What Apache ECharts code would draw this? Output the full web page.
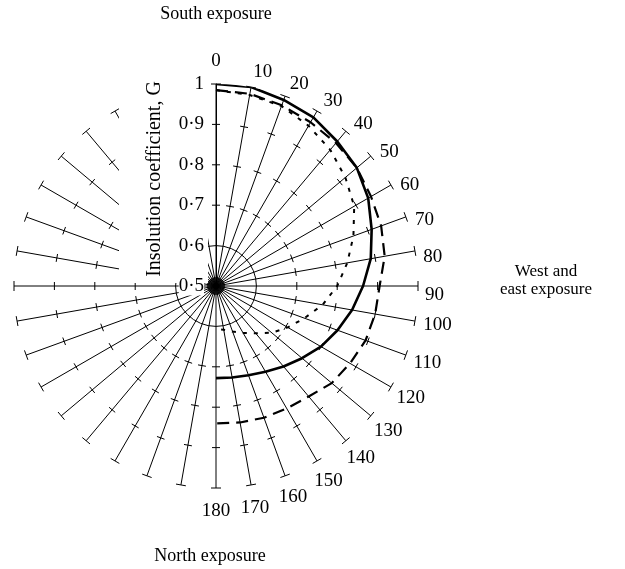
<!DOCTYPE html>
<html>
<head>
<meta charset="utf-8">
<title>Insolution coefficient by exposure</title>
<script src="https://cdn.jsdelivr.net/npm/echarts@6/dist/echarts.min.js"></script>
<style>
  html, body { margin: 0; padding: 0; background: #fff; }
  #chart { width: 625px; height: 569px; }
</style>
</head>
<body>
<div id="chart"></div>
<script>
// Orientation of the facade in degrees (0 = south, 90 = west/east, 180 = north)
const angles = [0, 10, 20, 30, 40, 50, 60, 70, 80, 90, 100, 110, 120, 130, 140, 150, 160, 170, 180];

// Insolution coefficient G for the three curves
const curveSolid  = [1.000, 1.000, 0.990, 0.982, 0.967, 0.955, 0.935, 0.910, 0.889, 0.864, 0.842, 0.820, 0.800, 0.778, 0.760, 0.745, 0.735, 0.730, 0.728];
const curveDashed = [0.985, 0.983, 0.976, 0.968, 0.962, 0.955, 0.943, 0.935, 0.924, 0.905, 0.900, 0.894, 0.883, 0.874, 0.857, 0.850, 0.847, 0.843, 0.840];
const curveDotted = [0.985, 0.980, 0.974, 0.958, 0.940, 0.918, 0.895, 0.862, 0.830, 0.800, 0.768, 0.733, 0.705, 0.680, 0.653, 0.634, 0.620, 0.610, 0.607];

// Radial scale of G
const radialMin = 0.5;
const radialMax = 1.0;
const radialStep = 0.1;
const innerRing = 0.6;
const spokeTickLevels = [0.7, 0.8, 0.9, 1.0];
const spokeStep = 10;

const SERIF = '"Liberation Serif", "DejaVu Serif", serif';

function pairs(values) {
  return values.map((g, i) => [g, angles[i]]);
}

// Cross ticks on every spoke, with an end cap at G = 1
const spokeTicks = [];
for (let a = 0; a < 360; a += spokeStep) {
  spokeTickLevels.forEach(g => spokeTicks.push([g, a]));
}

function unitFromHub(api, g, a) {
  const c = api.coord([radialMin, 0]);
  const p = api.coord([g, a]);
  const dx = p[0] - c[0], dy = p[1] - c[1];
  const len = Math.hypot(dx, dy) || 1;
  return { p, ux: dx / len, uy: dy / len };
}

function renderSpokeTick(params, api) {
  const g = api.value(0);
  const { p, ux, uy } = unitFromHub(api, g, api.value(1));
  const nx = -uy, ny = ux;
  const half = g >= radialMax ? 5 : 4;
  return {
    type: 'line',
    shape: { x1: p[0] - nx * half, y1: p[1] - ny * half, x2: p[0] + nx * half, y2: p[1] + ny * half },
    style: { stroke: '#000', lineWidth: 1 }
  };
}

function renderRing(params, api) {
  const c = api.coord([radialMin, 0]);
  const p = api.coord([api.value(0), 0]);
  return {
    type: 'circle',
    shape: { cx: c[0], cy: c[1], r: Math.hypot(p[0] - c[0], p[1] - c[1]) },
    style: { fill: 'none', stroke: '#000', lineWidth: 1 }
  };
}

// Orientation labels beyond the spoke ends: two-digit labels sit a little
// clockwise of their spoke, three-digit labels straight out from it.
function renderAngleLabel(params, api) {
  const a = api.value(1);
  const text = String(a);
  const { p, ux, uy } = unitFromHub(api, radialMax, a);
  const twoDigit = text.length === 2;
  const out = twoDigit ? 16.5 : 23;
  const side = twoDigit ? 9 : 0;
  const tx = -uy, ty = ux;
  return {
    type: 'text',
    x: p[0] + ux * out + tx * side,
    y: p[1] + uy * out + ty * side,
    style: {
      text,
      font: '19px ' + SERIF,
      fill: '#000',
      align: 'center',
      verticalAlign: 'middle'
    }
  };
}

const chart = echarts.init(document.getElementById('chart'), null, { renderer: 'canvas' });

// Layer 0: spokes, ring, spoke ticks and curves.
// Layer 1: the white panel behind the G axis title, the G axis and all text.
chart.setOption({
  animation: false,
  backgroundColor: '#fff',
  polar: { center: [216, 286], radius: 202 },
  angleAxis: {
    type: 'value',
    min: 0,
    max: 360,
    interval: spokeStep,
    startAngle: 90,
    clockwise: true,
    zlevel: 0,
    z: 0,
    axisLine: { show: false },
    axisTick: { show: false },
    splitLine: { show: true, lineStyle: { color: '#000', width: 1 } },
    axisLabel: { show: false }
  },
  radiusAxis: {
    type: 'value',
    min: radialMin,
    max: radialMax,
    interval: radialStep,
    zlevel: 1,
    z: 12,
    axisLine: { show: true, lineStyle: { color: '#000', width: 1 } },
    axisTick: { show: false },
    splitLine: { show: false },
    axisLabel: {
      showMinLabel: true,
      showMaxLabel: true,
      margin: 12,
      color: '#000',
      fontFamily: SERIF,
      fontSize: 19,
      backgroundColor: '#fff',
      formatter: v => (Math.abs(v - 1) < 1e-6 ? '1' : Number(v).toFixed(1).replace('.', '\u00b7'))
    }
  },
  graphic: [
    {
      type: 'rect',
      zlevel: 1,
      z: 10,
      shape: { x: 119, y: 66, width: 89, height: 217 },
      style: { fill: '#fff' }
    },
    {
      type: 'text',
      zlevel: 1,
      z: 12,
      x: 155, y: 179,
      rotation: Math.PI / 2,
      style: {
        text: 'Insolution coefficient, G',
        font: '20px ' + SERIF,
        fill: '#000',
        align: 'center',
        verticalAlign: 'middle'
      }
    },
    {
      type: 'text',
      zlevel: 1,
      z: 12,
      x: 216, y: 14,
      style: { text: 'South exposure', font: '18px ' + SERIF, fill: '#000', align: 'center', verticalAlign: 'middle' }
    },
    {
      type: 'text',
      zlevel: 1,
      z: 12,
      x: 210, y: 556,
      style: { text: 'North exposure', font: '18px ' + SERIF, fill: '#000', align: 'center', verticalAlign: 'middle' }
    },
    {
      type: 'text',
      zlevel: 1,
      z: 12,
      x: 546, y: 281,
      style: { text: 'West and\neast exposure', font: '17px ' + SERIF, fill: '#000', align: 'center', verticalAlign: 'middle', lineHeight: 18 }
    }
  ],
  series: [
    {
      name: 'ring',
      type: 'custom',
      coordinateSystem: 'polar',
      zlevel: 0,
      z: 1,
      silent: true,
      data: [[innerRing, 0]],
      renderItem: renderRing
    },
    {
      name: 'spoke ticks',
      type: 'custom',
      coordinateSystem: 'polar',
      zlevel: 0,
      z: 1,
      silent: true,
      data: spokeTicks,
      renderItem: renderSpokeTick
    },
    {
      name: 'orientation labels',
      type: 'custom',
      coordinateSystem: 'polar',
      zlevel: 1,
      z: 12,
      silent: true,
      data: angles.map(a => [radialMax, a]),
      renderItem: renderAngleLabel
    },
    {
      name: 'hub',
      type: 'scatter',
      coordinateSystem: 'polar',
      zlevel: 0,
      z: 5,
      symbol: 'circle',
      symbolSize: 18,
      itemStyle: { color: '#000' },
      data: [[radialMin, 0]]
    },
    {
      name: 'G solid',
      type: 'line',
      coordinateSystem: 'polar',
      zlevel: 0,
      z: 6,
      symbol: 'none',
      lineStyle: { color: '#000', width: 2.6, type: 'solid' },
      data: pairs(curveSolid)
    },
    {
      name: 'G dashed',
      type: 'line',
      coordinateSystem: 'polar',
      zlevel: 0,
      z: 6,
      symbol: 'none',
      lineStyle: { color: '#000', width: 2.2, type: [12, 7] },
      data: pairs(curveDashed)
    },
    {
      name: 'G dotted',
      type: 'line',
      coordinateSystem: 'polar',
      zlevel: 0,
      z: 6,
      symbol: 'none',
      lineStyle: { color: '#000', width: 2, type: [4, 7] },
      data: pairs(curveDotted)
    }
  ]
});
</script>
</body>
</html>
